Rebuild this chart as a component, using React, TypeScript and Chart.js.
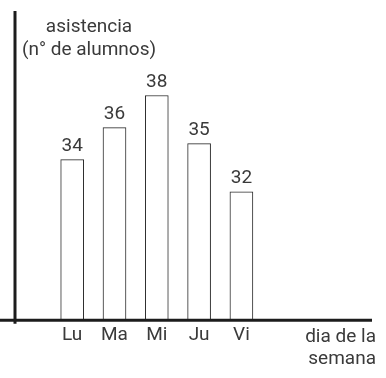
import React, { useEffect, useRef } from "react";
import { Chart, registerables } from "chart.js";

Chart.register(...registerables);

const days = ["Lu", "Ma", "Mi", "Ju", "Vi"];
const attendance = [34, 36, 38, 35, 32];
const yTitle = ["asistencia", "(n° de alumnos)"];
const xTitle = ["dia de la", "semana"];

const FONT_FAMILY = "Roboto, 'Liberation Sans', sans-serif";
const FONT_SIZE = 19;
const FONT_WEIGHT = 400;
const TEXT_COLOR = "#3a3a3a";
const AXIS_COLOR = "#1c1c1c";

const decorPlugin = {
  id: "decor",
  afterDatasetsDraw(chart: any) {
    const { ctx, chartArea } = chart;
    ctx.save();
    // axes
    ctx.strokeStyle = AXIS_COLOR;
    ctx.lineWidth = 3;
    ctx.beginPath();
    ctx.moveTo(chartArea.left, 11);
    ctx.lineTo(chartArea.left, chartArea.bottom + 3.5);
    ctx.stroke();
    ctx.beginPath();
    ctx.moveTo(0, chartArea.bottom);
    ctx.lineTo(chartArea.right, chartArea.bottom);
    ctx.stroke();

    ctx.fillStyle = TEXT_COLOR;
    ctx.font = `${FONT_WEIGHT} ${FONT_SIZE}px ${FONT_FAMILY}`;
    // value labels
    const meta = chart.getDatasetMeta(0);
    ctx.textAlign = "center";
    ctx.textBaseline = "alphabetic";
    meta.data.forEach((bar: any, i: number) => {
      ctx.fillText(String(attendance[i]), bar.x, bar.y - 8.5);
    });
    // y title
    ctx.fillText(yTitle[0], 89, 32);
    ctx.fillText(yTitle[1], 89, 55);
    // x title
    ctx.textAlign = "right";
    ctx.fillText(xTitle[0], 376, 342);
    ctx.fillText(xTitle[1], 376, 364);
    ctx.restore();
  },
};

export default function App() {
  const ref = useRef<HTMLCanvasElement>(null);
  useEffect(() => {
    if (!ref.current) return;
    const chart = new Chart(ref.current, {
      type: "bar",
      data: {
        datasets: [
          {
            data: days.map((_, i) => ({ x: i, y: attendance[i] })),
            backgroundColor: "#ffffff",
            borderColor: "#2a2a2a",
            borderWidth: 1,
            barThickness: 23,
          },
        ],
      },
      options: {
        animation: false,
        responsive: false,
        layout: { padding: { left: 15, right: 14, top: 12, bottom: 27 } },
        plugins: { legend: { display: false }, tooltip: { enabled: false } },
        scales: {
          x: {
            type: "linear",
            min: -1.352,
            max: 7.087,
            offset: false,
            bounds: "data",
            grid: { display: false, drawTicks: false, offset: false },
            border: { display: false },
            afterBuildTicks: (axis: any) => {
              axis.ticks = days.map((_, i) => ({ value: i }));
            },
            ticks: {
              autoSkip: false,
              maxRotation: 0,
              padding: 4,
              color: TEXT_COLOR,
              font: { family: FONT_FAMILY, size: FONT_SIZE, weight: FONT_WEIGHT as any },
              callback: (v: any) => days[v] ?? "",
            },
          },
          y: { display: false, min: 24, max: 43.2 },
        },
      },
      plugins: [decorPlugin],
    });
    return () => chart.destroy();
  }, []);
  return (
    <div style={{ position: "fixed", left: 0, top: 0, width: 386, height: 378, background: "#fff" }}>
      <canvas ref={ref} width={386} height={378} style={{ display: "block" }} />
    </div>
  );
}
